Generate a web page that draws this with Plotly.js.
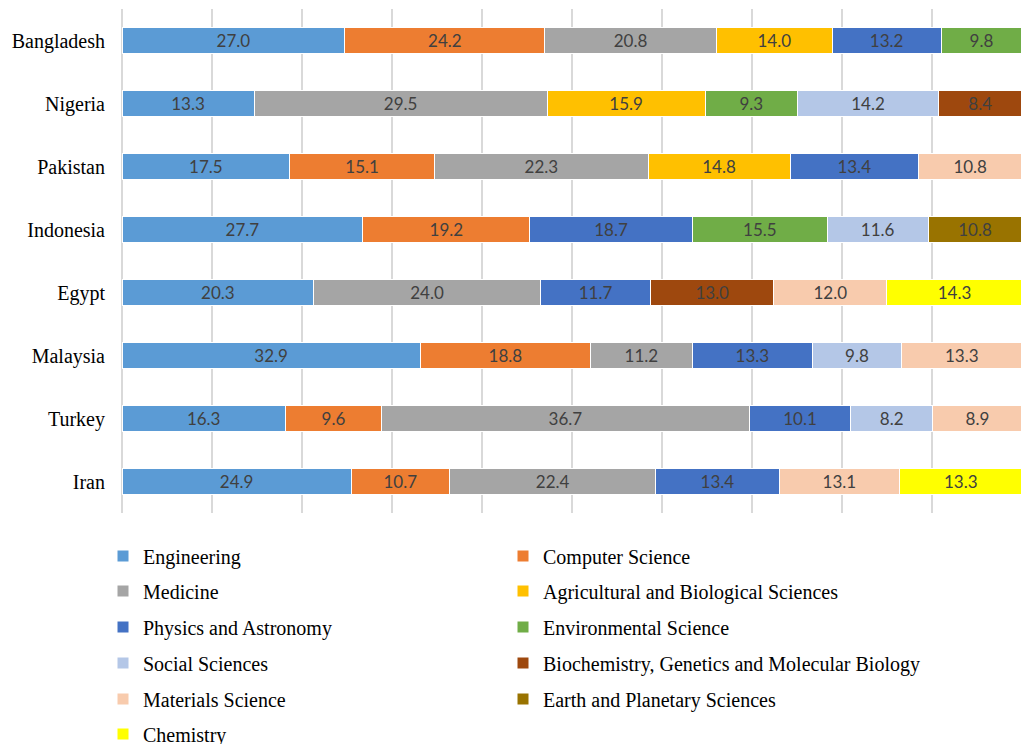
<!DOCTYPE html>
<html>
<head>
<meta charset="utf-8">
<script src="https://cdn.plot.ly/plotly-3.0.1.min.js"></script>
<style>
  html, body { margin: 0; padding: 0; overflow: hidden; background: #fff; }
  #chart { width: 1022px; height: 744px; }
</style>
</head>
<body>
<div id="chart"></div>
<script>
// Share of publications by subject area, per country (each row scaled to 100%)
const countries = ["Bangladesh", "Nigeria", "Pakistan", "Indonesia", "Egypt", "Malaysia", "Turkey", "Iran"];

const engineering     = [27.0, 13.3, 17.5, 27.7, 20.3, 32.9, 16.3, 24.9];
const computerScience = [24.2, null, 15.1, 19.2, null, 18.8, 9.6, 10.7];
const medicine        = [20.8, 29.5, 22.3, null, 24.0, 11.2, 36.7, 22.4];
const agricultural    = [14.0, 15.9, 14.8, null, null, null, null, null];
const physics         = [13.2, null, 13.4, 18.7, 11.7, 13.3, 10.1, 13.4];
const environmental   = [9.8, 9.3, null, 15.5, null, null, null, null];
const socialSciences  = [null, 14.2, null, 11.6, null, 9.8, 8.2, null];
const biochemistry    = [null, 8.4, null, null, 13.0, null, null, null];
const materials       = [null, null, 10.8, null, 12.0, 13.3, 8.9, 13.1];
const earthPlanetary  = [null, null, null, 10.8, null, null, null, null];
const chemistry       = [null, null, null, null, 14.3, null, null, 13.3];

const subjects = [
  { name: "Engineering", values: engineering, color: "#5B9BD5" },
  { name: "Computer Science", values: computerScience, color: "#ED7D31" },
  { name: "Medicine", values: medicine, color: "#A5A5A5" },
  { name: "Agricultural and Biological Sciences", values: agricultural, color: "#FFC000" },
  { name: "Physics and Astronomy", values: physics, color: "#4472C4" },
  { name: "Environmental Science", values: environmental, color: "#70AD47" },
  { name: "Social Sciences", values: socialSciences, color: "#B4C7E7" },
  { name: "Biochemistry, Genetics and Molecular Biology", values: biochemistry, color: "#9E480E" },
  { name: "Materials Science", values: materials, color: "#F8CBAD" },
  { name: "Earth and Planetary Sciences", values: earthPlanetary, color: "#997300" },
  { name: "Chemistry", values: chemistry, color: "#FFFF00" }
];

const serif = '"Liberation Serif", "Times New Roman", serif';
const labelFont = 'Lato, "Liberation Sans", sans-serif';

// one small legend per entry so the two-column grid can be placed exactly
const legendKey = i => (i === 0 ? "legend" : "legend" + (i + 1));

const traces = subjects.map((s, i) => ({
  type: "bar",
  orientation: "h",
  name: s.name,
  y: countries,
  x: s.values,
  text: s.values.map(v => (v == null ? "" : v.toFixed(1))),
  texttemplate: "%{text}",
  textposition: "inside",
  insidetextanchor: "middle",
  textangle: 0,
  constraintext: "none",
  textfont: { family: labelFont, size: 17, color: "#404040" },
  marker: { color: s.color, line: { color: "#FFFFFF", width: 1 } },
  legend: legendKey(i),
  hoverinfo: "name+text"
}));

const plotTop = 9, plotBottom = 513, plotLeft = 122, plotWidth = 900;
const plotHeight = plotBottom - plotTop;
const rowCenters = [556, 591, 627, 663, 699, 734];
const colLeft = [103, 503];

const layout = {
  width: 1022,
  height: 744,
  margin: { l: plotLeft, r: 0, t: plotTop, b: 744 - plotBottom, pad: 0, autoexpand: false },
  paper_bgcolor: "#FFFFFF",
  plot_bgcolor: "#FFFFFF",
  barmode: "stack",
  barnorm: "percent",
  bargap: 0.6,
  showlegend: true,
  uniformtext: { mode: "show", minsize: 17 },
  xaxis: {
    range: [0, 100],
    dtick: 10,
    tick0: 0,
    showticklabels: false,
    showgrid: true,
    gridcolor: "#D9D9D9",
    gridwidth: 1.5,
    zeroline: true,
    zerolinecolor: "#D9D9D9",
    zerolinewidth: 1.5,
    showline: false,
    ticks: "",
    fixedrange: true
  },
  yaxis: {
    type: "category",
    autorange: "reversed",
    showgrid: false,
    zeroline: false,
    showline: false,
    ticks: "",
    ticklabelstandoff: 16,
    tickfont: { family: serif, size: 20, color: "#000000" },
    fixedrange: true
  }
};

subjects.forEach((s, i) => {
  const row = Math.floor(i / 2), col = i % 2;
  layout[legendKey(i)] = {
    orientation: "h",
    x: (colLeft[col] - plotLeft) / plotWidth,
    xanchor: "left",
    y: (plotBottom - rowCenters[row]) / plotHeight,
    yanchor: "middle",
    bgcolor: "rgba(0,0,0,0)",
    borderwidth: 0,
    font: { family: serif, size: 20, color: "#000000" }
  };
});

Plotly.newPlot("chart", traces, layout, { displayModeBar: false, staticPlot: true });
</script>
</body>
</html>
